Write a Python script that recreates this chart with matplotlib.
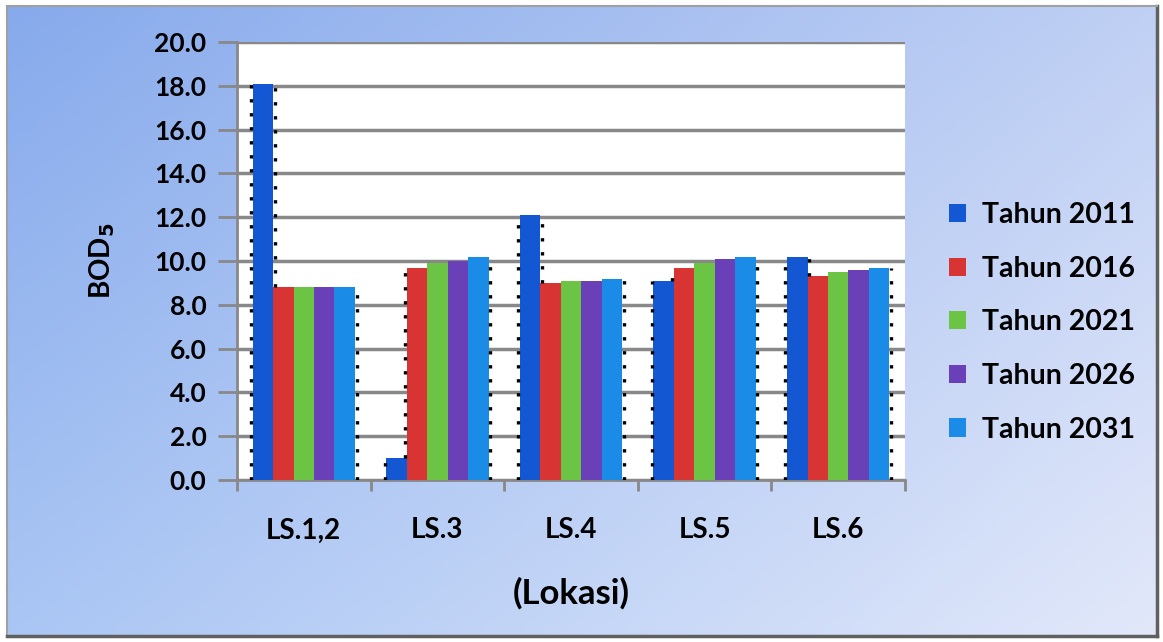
#!/usr/bin/python3

# Bar chart of BOD5 per sampling location, one bar per projection year

import numpy as np
import matplotlib
matplotlib.use('Agg')
import matplotlib.pyplot as plt

locations = ["LS.1,2", "LS.3", "LS.4", "LS.5", "LS.6"]
years = ["Tahun 2011", "Tahun 2016", "Tahun 2021", "Tahun 2026", "Tahun 2031"]
bod_2011 = [18.1, 1.0, 12.1, 9.1, 10.2]
bod_2016 = [8.8, 9.7, 9.0, 9.7, 9.3]
bod_2021 = [8.8, 9.9, 9.1, 9.9, 9.5]
bod_2026 = [8.8, 10.0, 9.1, 10.1, 9.6]
bod_2031 = [8.8, 10.2, 9.2, 10.2, 9.7]
yticks = [0, 2, 4, 6, 8, 10, 12, 14, 16, 18, 20]

colours = ["#1457d2", "#d83434", "#6cc445", "#6a40b8", "#1a8ce8"]

plt.rcParams['font.family'] = ['Lato', 'DejaVu Sans']
plt.rcParams['font.weight'] = 'bold'

fig = plt.figure(figsize=(11.63, 6.42), dpi=100)
fig.patch.set_facecolor('white')

# blue gradient backdrop inside a thin frame
bg = fig.add_axes([7/1163, 6/642, 1150/1163, 630/642], zorder=0)
gx = np.linspace(0, 1, 200)[None, :]
gy = np.linspace(0, 1, 120)[:, None]
tl = np.array([135, 170, 236]) / 255.0
tr = np.array([192, 208, 244]) / 255.0
bl = np.array([170, 198, 244]) / 255.0
br = np.array([226, 232, 250]) / 255.0
grad = ((1-gx)*(1-gy))[..., None]*tl + (gx*(1-gy))[..., None]*tr + \
       ((1-gx)*gy)[..., None]*bl + (gx*gy)[..., None]*br
bg.imshow(grad, aspect='auto', extent=[0, 1, 1, 0])
bg.set_xlim(0, 1)
bg.set_ylim(1, 0)
bg.set_xticks([])
bg.set_yticks([])
for side in ['top', 'left']:
    bg.spines[side].set_color('#a0a0a0')
    bg.spines[side].set_linewidth(1.5)
for side in ['bottom', 'right']:
    bg.spines[side].set_color('#606060')
    bg.spines[side].set_linewidth(2.5)

ax = fig.add_axes([237/1163, 1-480/642, 668/1163, 438/642], zorder=2)
ax.set_facecolor('white')

series = [bod_2011, bod_2016, bod_2021, bod_2026, bod_2031]
x = np.arange(len(locations))
bw = 0.153
nser = len(series)
for i, vals in enumerate(series):
    ax.bar(x + (i - (nser-1)/2)*bw, vals, bw, color=colours[i], label=years[i], zorder=3)

# dotted outline along the exposed vertical edges of each group
dot = dict(color='black', linestyle=(0, (1, 3.2)), linewidth=2.4, zorder=4)
off = 0.012
for g in range(len(locations)):
    h = [s[g] for s in series]
    lefts = [x[g] + (i - (nser-1)/2)*bw - bw/2 for i in range(nser)]
    ax.vlines(lefts[0] - off, 0, h[0], **dot)
    for i in range(nser-1):
        edge = lefts[i] + bw
        if h[i] > h[i+1] + 0.3:
            ax.vlines(edge + off, h[i+1], h[i], **dot)
        elif h[i+1] > h[i] + 0.3:
            ax.vlines(edge - off, h[i], h[i+1], **dot)
    ax.vlines(lefts[-1] + bw + off, 0, h[-1], **dot)

ax.set_xlim(-0.5, len(locations) - 0.5)
ax.set_ylim(0, 20)
ax.set_yticks(yticks)
ax.set_yticklabels(["%.1f" % v for v in yticks], fontsize=19, fontweight='bold')
ax.yaxis.grid(True, color='#888888', linewidth=2.5, zorder=1)
ax.set_axisbelow(True)
ax.tick_params(axis='y', length=14, width=2, color='#888888', pad=8)

ax.set_xticks(np.arange(len(locations) + 1) - 0.5, minor=False)
ax.set_xticklabels([])
ax.set_xticks(x, minor=True)
ax.set_xticklabels(locations, minor=True, fontsize=20, fontweight='bold')
ax.tick_params(axis='x', which='major', length=8, width=2, color='#888888')
ax.tick_params(axis='x', which='minor', length=0, pad=27)

for side in ['top', 'right']:
    ax.spines[side].set_visible(False)
ax.spines['left'].set_color('#888888')
ax.spines['left'].set_linewidth(2)
ax.spines['bottom'].set_color('#888888')
ax.spines['bottom'].set_linewidth(2)

ax.set_ylabel("BOD$_\\mathbf{5}$", fontsize=20, fontweight='bold', labelpad=27)
ax.set_xlabel("(Lokasi)", fontsize=25, fontweight='bold', labelpad=24)

leg = ax.legend(loc='center left', bbox_to_anchor=(1.028, 0.36), frameon=False,
                fontsize=20.5, handlelength=0.6, handleheight=0.6,
                labelspacing=0.97, handletextpad=0.55)
for t in leg.get_texts():
    t.set_fontweight('bold')

plt.savefig('out.png', dpi=100)
